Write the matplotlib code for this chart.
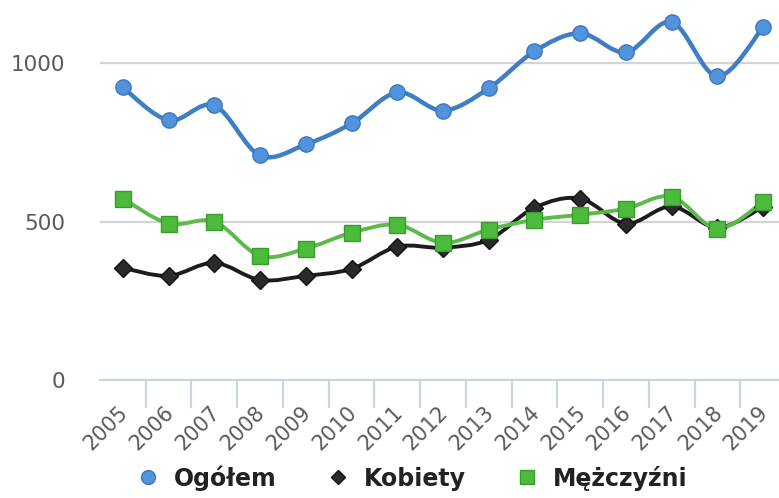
import matplotlib
matplotlib.use("Agg")
import matplotlib.pyplot as plt
from matplotlib.path import Path
from matplotlib.patches import PathPatch
from matplotlib.lines import Line2D
from matplotlib.transforms import ScaledTranslation
import numpy as np

years = ["2005", "2006", "2007", "2008", "2009", "2010", "2011", "2012",
         "2013", "2014", "2015", "2016", "2017", "2018", "2019"]
ogolem = [924, 820, 867, 709, 744, 810, 908, 851, 921, 1038, 1095, 1035, 1130, 959, 1114]
kobiety = [354, 329, 370, 316, 329, 351, 421, 418, 443, 544, 573, 494, 548, 481, 547]
mezczyzni = [573, 494, 500, 392, 415, 465, 490, 433, 475, 506, 522, 541, 579, 478, 563]
series_names = ["Ogółem", "Kobiety", "Mężczyźni"]
yticks = [0, 500, 1000]

W, H = 779, 498
fig = plt.figure(figsize=(W / 100, H / 100), dpi=100)
ax = fig.add_axes([100 / W, 118 / H, 686 / W, 380 / H])

def smooth_path(xs, ys):
    pts = np.column_stack([xs, ys]).astype(float)
    n = len(pts)
    verts = [pts[0]]
    codes = [Path.MOVETO]
    for i in range(n - 1):
        p0 = pts[i - 1] if i > 0 else pts[i]
        p1 = pts[i]
        p2 = pts[i + 1]
        p3 = pts[i + 2] if i + 2 < n else pts[i + 1]
        c1 = p1 + (p2 - p0) / 6.0
        c2 = p2 - (p3 - p1) / 6.0
        verts += [c1, c2, p2]
        codes += [Path.CURVE4] * 3
    return Path(verts, codes)

x = np.arange(len(years))
styles = [
    (ogolem, "#3f7dc4", 3.2, "o", "#5193dc", "#3c78bf", 11, 10),
    (kobiety, "#1c1c1c", 2.8, "D", "#2a2a2a", "#111111", 9, 7.5),
    (mezczyzni, "#5cba4c", 2.8, "s", "#4cbb3c", "#3a9a2e", 11, 9.5),
]
handles = []
for (vals, lc, lw, mk, mfc, mec, ms, lms), name in zip(styles, series_names):
    ax.add_patch(PathPatch(smooth_path(x, vals), facecolor="none", edgecolor=lc,
                           lw=lw, capstyle="round", joinstyle="round", zorder=3))
    ax.plot(x, vals, ls="none", marker=mk, ms=ms, mfc=mfc, mec=mec, mew=1.0, zorder=4)
    handles.append(Line2D([], [], ls="none", marker=mk, ms=lms, mfc=mfc, mec=mec,
                          label=name))

ax.set_xlim(-0.5, 14.5)
ax.set_ylim(0, 1200)
ax.set_yticks(yticks)
ax.set_yticklabels([str(v) for v in yticks])
ax.yaxis.grid(True, color="#d4d4d4", lw=1.6)
ax.set_axisbelow(True)
for s in ["top", "right", "left"]:
    ax.spines[s].set_visible(False)
ax.spines["bottom"].set_color("#c9d5e0")
ax.spines["bottom"].set_linewidth(1.6)
ax.tick_params(axis="y", length=0, pad=25, labelsize=15.5, labelcolor="#5a5a5a")

ax.set_xticks(x)
ax.set_xticklabels(years, rotation=45, ha="right", va="top", rotation_mode="anchor")
ax.set_xticks(np.arange(0.5, 14.5, 1), minor=True)
ax.tick_params(axis="x", which="major", length=0, pad=16, labelsize=15, labelcolor="#5a5a5a")
ax.tick_params(axis="x", which="minor", length=20, width=1.6, color="#c9d5e0", direction="out")
shift = ScaledTranslation(-5 / 100, 0, fig.dpi_scale_trans)
for lbl in ax.get_xticklabels():
    lbl.set_transform(lbl.get_transform() + shift)

leg = fig.legend(handles=handles, loc="center", bbox_to_anchor=(412 / W, 20 / H), ncol=3,
                 frameon=False, handletextpad=0.6, columnspacing=2.1, handlelength=1.0,
                 prop={"size": 17, "weight": "bold"})
for t in leg.get_texts():
    t.set_color("#222222")

fig.savefig("out.png", dpi=100)
